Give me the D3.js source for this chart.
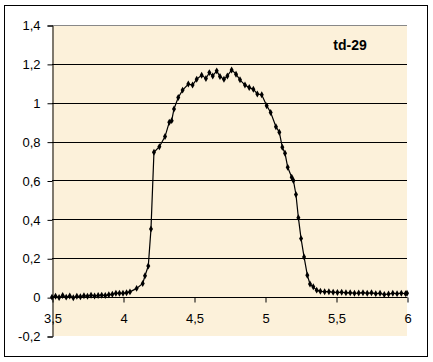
<!DOCTYPE html>
<html>
<head>
<meta charset="utf-8">
<script src="https://cdn.jsdelivr.net/npm/d3@7"></script>
<style>
body{margin:0;background:#fff;}
text{font-family:Arial,"Liberation Sans",sans-serif;}
</style>
</head>
<body>
<svg id="chart" width="433" height="362"></svg>
<script>
// data
var xs=[3.50,3.525,3.55,3.575,3.60,3.625,3.65,3.675,3.70,3.725,3.75,3.775,3.80,3.825,3.85,3.875,3.90,3.925,3.95,3.975,4.00,4.025,
        4.049,4.096,4.139,4.155,4.178,4.197,4.218,4.256,4.296,4.326,
        4.343,4.359,4.389,4.420,4.460,4.490,4.519,4.554,4.584,4.608,4.632,4.660,4.683,4.711,4.735,4.765,4.796,4.824,4.859,4.889,4.918,4.946,4.977,
        5.012,5.040,5.077,5.101,5.122,5.141,5.160,5.188,5.200,5.218,5.235,5.254,5.275,5.298,5.317,5.340,5.364,
        5.39,5.42,5.45,5.48,5.51,5.54,5.57,5.60,5.63,5.66,5.69,5.72,5.75,5.78,5.81,5.84,5.87,5.90,5.93,5.96,5.99,6.00];
var ys=[0.000,0.005,-0.002,0.008,0.000,0.006,-0.003,0.005,0.002,0.007,0.004,0.010,0.006,0.008,0.010,0.008,0.012,0.015,0.020,0.020,0.020,0.022,
        0.027,0.045,0.070,0.110,0.160,0.350,0.745,0.774,0.826,0.900,
        0.908,0.968,1.027,1.065,1.096,1.091,1.121,1.142,1.125,1.155,1.138,1.164,1.135,1.121,1.138,1.169,1.147,1.118,1.091,1.078,1.070,1.045,1.041,
        0.985,0.950,0.877,0.848,0.771,0.740,0.668,0.617,0.600,0.528,0.409,0.301,0.207,0.113,0.067,0.053,0.036,
        0.030,0.028,0.028,0.025,0.024,0.025,0.022,0.023,0.020,0.021,0.023,0.020,0.022,0.018,0.020,0.013,0.016,0.020,0.018,0.020,0.018,0.020];
var xticks=[3.5,4,4.5,5,5.5,6];
var yticks=[-0.2,0,0.2,0.4,0.6,0.8,1,1.2,1.4];
var label="td-29";

var svg=d3.select("#chart");
var x=d3.scaleLinear().domain([3.5,6]).range([52,407]);
var y=d3.scaleLinear().domain([-0.2,1.4]).range([336,25]);
var fmt=function(d){ return String(d).replace(".",","); };

// outer frame
svg.append("rect").attr("x",4.5).attr("y",5.5).attr("width",423).attr("height",351)
   .attr("fill","#fff").attr("stroke","#000");

// plot area
svg.append("rect").attr("x",x(3.5)).attr("y",y(1.4)).attr("width",x(6)-x(3.5)).attr("height",y(-0.2)-y(1.4))
   .attr("fill","#fcf1da");
svg.append("line").attr("x1",x(3.5)).attr("x2",x(6)).attr("y1",y(1.4)+0.5).attr("y2",y(1.4)+0.5)
   .attr("stroke","#888");

// gridlines
svg.selectAll(".grid").data(yticks.filter(function(d){ return d>0 && d<1.4; }))
   .enter().append("line").attr("class","grid")
   .attr("x1",x(3.5)).attr("x2",x(6))
   .attr("y1",function(d){ return Math.round(y(d))+0.5; })
   .attr("y2",function(d){ return Math.round(y(d))+0.5; })
   .attr("stroke","#000");

// y axis
var ya=svg.append("g").attr("transform","translate("+(x(3.5)+0.5)+",0.5)")
   .call(d3.axisLeft(y).tickValues(yticks).tickFormat(fmt).tickSize(5).tickPadding(7));
ya.select(".domain").attr("stroke","#000");
ya.selectAll("text").attr("font-size",13).attr("fill","#000").style("font-family","Arial,'Liberation Sans',sans-serif");

// x axis at y=0
var xa=svg.append("g").attr("transform","translate(0.5,"+(Math.round(y(0))+0.5)+")")
   .call(d3.axisBottom(x).tickValues(xticks).tickFormat(fmt).tickSize(5).tickPadding(11));
xa.select(".domain").attr("d","M"+x(3.5)+",0H"+x(6)).attr("stroke","#000");
xa.selectAll("text").attr("font-size",13).attr("fill","#000").style("font-family","Arial,'Liberation Sans',sans-serif");

// data
var pts=xs.map(function(d,i){ return [d,ys[i]]; });
svg.append("path").datum(pts)
   .attr("fill","none").attr("stroke","#000").attr("stroke-width",1.2)
   .attr("d",d3.line().x(function(d){ return x(d[0]); }).y(function(d){ return y(d[1]); }));
svg.selectAll(".pt").data(pts).enter().append("path").attr("class","pt")
   .attr("transform",function(d){ return "translate("+x(d[0])+","+y(d[1])+")"; })
   .attr("d",d3.symbol().type(d3.symbolDiamond).size(14))
   .attr("fill","#000");

svg.append("text").attr("x",350).attr("y",50).attr("text-anchor","middle")
   .attr("font-size",14).attr("font-weight","bold").text(label);
</script>
</body>
</html>
